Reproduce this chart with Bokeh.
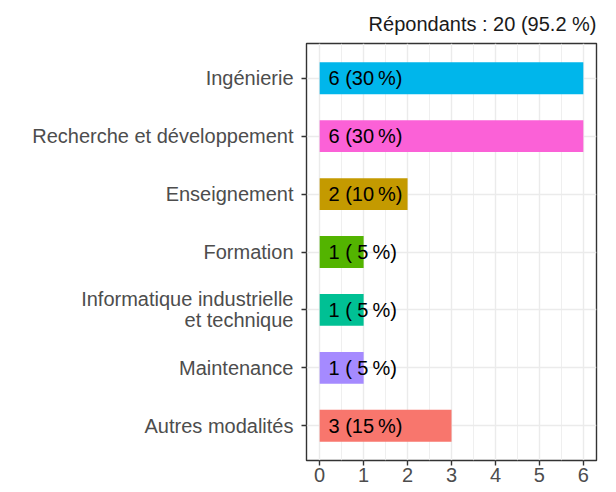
from bokeh.plotting import figure
from bokeh.models import Range1d, FixedTicker, ColumnDataSource
from bokeh.embed import file_html
from bokeh.resources import INLINE
from bokeh.core.properties import value

# Data (bottom to top)
categories = [
    "Autres modalités",
    "Maintenance",
    "Informatique industrielle\net technique",
    "Formation",
    "Enseignement",
    "Recherche et développement",
    "Ingénierie",
]
counts = [3, 1, 1, 1, 2, 6, 6]
percents = ["15", " 5", " 5", " 5", "10", "30", "30"]
colors = ["#F8766D", "#A58AFF", "#00C094", "#53B400", "#C49A00", "#FB61D7", "#00B6EB"]
x_ticks = [0, 1, 2, 3, 4, 5, 6]
title_text = "Répondants : 20 (95.2 %)"

positions = list(range(1, len(categories) + 1))
labels = [f"{c} ({p}\u202f%)" for c, p in zip(counts, percents)]

FONT = "Liberation Sans"

source = ColumnDataSource(dict(
    y=positions, right=counts, color=colors, label=labels,
    lx=[0.2] * len(counts),
))

p = figure(
    width=600, height=484,
    x_range=Range1d(-0.3, 6.3), y_range=Range1d(0.4, len(categories) + 0.6),
    output_backend="svg", toolbar_location=None,
    min_border_left=306, min_border_right=4, min_border_top=43, min_border_bottom=4,
    title=title_text,
)

p.hbar(y="y", left=0, right="right", height=0.55, color="color", line_color=None, source=source)
p.text(x="lx", y="y", text="label", source=source, text_align="left", text_baseline="middle",
       text_font=value(FONT), text_font_size="20px", text_color="#000000")

# Title
p.title.align = "right"
p.title.text_font = FONT
p.title.text_font_size = "20px"
p.title.text_font_style = "normal"
p.title.text_color = "#1A1A1A"
p.title.standoff = 18

# Frame
p.background_fill_color = "white"
p.border_fill_color = "white"
p.outline_line_color = "#333333"
p.outline_line_width = 1.4

# X axis
p.xaxis.ticker = FixedTicker(ticks=x_ticks, minor_ticks=[0.5, 1.5, 2.5, 3.5, 4.5, 5.5])
p.xaxis.axis_line_color = None
p.xaxis.major_tick_line_color = "#333333"
p.xaxis.major_tick_line_width = 1.4
p.xaxis.major_tick_out = 5
p.xaxis.major_tick_in = 0
p.xaxis.minor_tick_out = 0
p.xaxis.minor_tick_in = 0
p.xaxis.major_label_text_font = FONT
p.xaxis.major_label_text_font_size = "20px"
p.xaxis.major_label_text_color = "#4D4D4D"
p.xaxis.major_label_standoff = 2

# Y axis
p.yaxis.ticker = FixedTicker(ticks=positions)
p.yaxis.major_label_overrides = {pos: cat for pos, cat in zip(positions, categories)}
p.yaxis.axis_line_color = None
p.yaxis.major_tick_line_color = "#333333"
p.yaxis.major_tick_line_width = 1.4
p.yaxis.major_tick_out = 5
p.yaxis.major_tick_in = 0
p.yaxis.minor_tick_out = 0
p.yaxis.minor_tick_in = 0
p.yaxis.major_label_text_font = FONT
p.yaxis.major_label_text_font_size = "20px"
p.yaxis.major_label_text_color = "#4D4D4D"
p.yaxis.major_label_text_line_height = 0.95
p.yaxis.major_label_standoff = 8

# Grid
p.xgrid.grid_line_color = "#EBEBEB"
p.xgrid.grid_line_width = 1.4
p.xgrid.minor_grid_line_color = "#EBEBEB"
p.xgrid.minor_grid_line_width = 0.8
p.ygrid.grid_line_color = "#EBEBEB"
p.ygrid.grid_line_width = 1.4

open("out.html", "w").write(file_html(p, INLINE))
